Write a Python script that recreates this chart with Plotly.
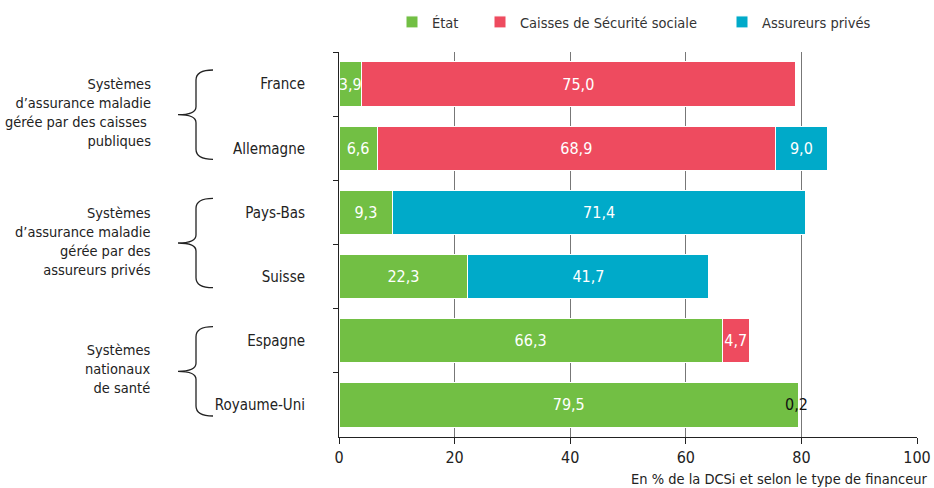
import plotly.graph_objects as go

countries = ["France", "Allemagne", "Pays-Bas", "Suisse", "Espagne", "Royaume-Uni"]
etat = [3.9, 6.6, 9.3, 22.3, 66.3, 79.5]
caisses = [75.0, 68.9, None, None, 4.7, 0.2]
assureurs = [None, 9.0, 71.4, 41.7, None, None]
series_names = ["État", "Caisses de Sécurité sociale", "Assureurs privés"]
colors = ["#72BF44", "#EE4B5F", "#00AAC9"]
groups = [
    "Systèmes<br>d’assurance maladie<br>gérée par des caisses <br>publiques",
    "Systèmes<br>d’assurance maladie<br>gérée par des<br>assureurs privés",
    "Systèmes<br>nationaux<br>de santé",
]
group_members = [(0, 1), (2, 3), (4, 5)]
xticks = [0, 20, 40, 60, 80, 100]
xtitle = "En % de la DCSi et selon le type de financeur"

FONT = "DejaVu Sans Condensed, Roboto, sans-serif"
W, H = 934, 488
ML, MR, MT, MB = 339, 17, 52, 51
PW, PH = W - ML - MR, H - MT - MB
legend_ids = ["legend", "legend2", "legend3"]
legend_px = [392, 480, 722]


def fmt(v):
    return "" if v is None or v < 1 else f"{v:.1f}".replace(".", ",")


def px(x):
    return (x - ML) / PW


def py(y):
    return (H - MB - y) / PH


fig = go.Figure()
for name, vals, col, lg in zip(series_names, [etat, caisses, assureurs], colors, legend_ids):
    fig.add_trace(go.Bar(
        y=countries, x=vals, name=name, orientation="h", legend=lg, showlegend=True,
        marker=dict(color=col, line=dict(color="white", width=1)),
        text=[fmt(v) for v in vals], textposition="inside", textangle=0,
        insidetextanchor="middle", constraintext="none",
        textfont=dict(color="white", size=16, family=FONT),
        hoverinfo="skip",
    ))

# small values labelled next to the bar end
totals = [sum(v for v in (a, b, c) if v is not None) for a, b, c in zip(etat, caisses, assureurs)]
for i, v in enumerate(caisses):
    if v is not None and v < 1:
        fig.add_annotation(x=totals[i], y=countries[i], xref="x", yref="y",
                           text=f"{v:.1f}".replace(".", ","), showarrow=False,
                           xanchor="center", xshift=-3,
                           font=dict(color="#111", size=16, family=FONT))

# braces and group labels
n = len(countries)
for label, (a, b) in zip(groups, group_members):
    top_px = MT + PH * a / n + 18
    bot_px = MT + PH * (b + 1) / n - 21
    mid = (top_px + bot_px) / 2
    xe, xs, xp = 213, 196, 178
    path = (f"M {px(xe)} {py(top_px)} Q {px(xs)} {py(top_px)} {px(xs)} {py(top_px + 10)} "
            f"L {px(xs)} {py(mid - 8)} Q {px(xs)} {py(mid)} {px(xp)} {py(mid)} "
            f"Q {px(xs)} {py(mid)} {px(xs)} {py(mid + 8)} "
            f"L {px(xs)} {py(bot_px - 10)} Q {px(xs)} {py(bot_px)} {px(xe)} {py(bot_px)}")
    fig.add_shape(type="path", path=path, xref="paper", yref="paper",
                  line=dict(color="#222", width=1.3))
    fig.add_annotation(x=px(153), y=py(mid - 2), xref="paper", yref="paper",
                       text=label, showarrow=False, xanchor="right", yanchor="middle",
                       align="right", font=dict(size=14.5, color="#222", family=FONT))

fig.add_annotation(x=px(929), y=py(479), xref="paper", yref="paper", text=xtitle,
                   showarrow=False, xanchor="right", yanchor="middle",
                   font=dict(size=14.5, color="#222", family=FONT))

legend_layout = {}
for lg, lx in zip(legend_ids, legend_px):
    legend_layout[lg] = dict(orientation="h", x=px(lx), y=py(22), xanchor="left",
                             yanchor="middle", font=dict(size=14.5, color="#333"),
                             bgcolor="rgba(0,0,0,0)", visible=True)

fig.update_layout(
    width=W, height=H, barmode="stack", bargap=0.31, showlegend=True,
    margin=dict(l=ML, r=MR, t=MT, b=MB, autoexpand=False),
    plot_bgcolor="white", paper_bgcolor="white",
    font=dict(family=FONT, size=15, color="#222"),
    uniformtext=dict(minsize=15, mode="show"),
    xaxis=dict(range=[0, 100], tickvals=xticks, ticks="outside", ticklen=6,
               tickcolor="#222", showline=True, linecolor="#222", linewidth=1,
               showgrid=True, gridcolor="#777", gridwidth=1, zeroline=False,
               tickfont=dict(size=16, color="#222")),
    yaxis=dict(autorange="reversed", ticks="outside", ticklen=5, tickson="boundaries",
               tickcolor="#222", showline=True, linecolor="#222", linewidth=1,
               ticklabelstandoff=30, tickfont=dict(size=15, color="#222")),
    **legend_layout,
)

fig.write_html("out.html", config={"displayModeBar": False},
               post_script="document.body.style.margin='0';")
